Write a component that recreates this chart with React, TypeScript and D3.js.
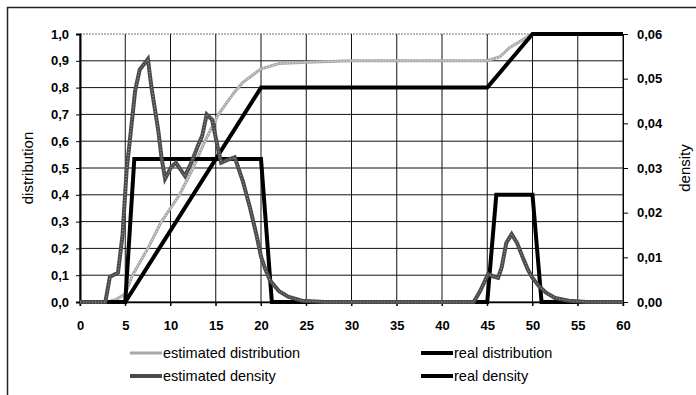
import * as d3 from 'd3';
import { useEffect, useRef } from 'react';

// x positions and values
const estDistX = [0, 3, 4, 5, 5.8, 7.5, 9, 11, 12.5, 13.8, 15.3, 17, 18, 20, 22, 25, 30, 35, 40, 45, 46.4, 47.5, 49, 50, 60];
const estDistY = [0, 0, 0.01, 0.03, 0.1, 0.2, 0.3, 0.4, 0.5, 0.6, 0.7, 0.78, 0.82, 0.87, 0.89, 0.895, 0.9, 0.9, 0.9, 0.9, 0.915, 0.95, 0.98, 1.0, 1.0];

const realDistX = [0, 5, 20, 45, 50, 60];
const realDistY = [0, 0, 0.8, 0.8, 1.0, 1.0];

const estDensX = [0, 2.8, 3.3, 4.2, 4.7, 5.15, 6.1, 6.6, 7.5, 7.9, 8.65, 9.0, 9.4, 10.1, 10.6, 11.6, 12.3, 13.0, 13.5, 14.0, 14.6, 15.2, 15.6, 16.3, 17.1, 18, 18.8, 19.5, 20, 20.5, 21, 22, 23, 24.5, 27, 43.5, 44.2, 45.1, 45.7, 46.2, 46.6, 47.1, 47.7, 48.3, 49, 49.5, 50, 50.7, 51.5, 52.5, 54, 56, 60];
const estDensY = [0, 0, 0.0056, 0.0066, 0.015, 0.0294, 0.0474, 0.052, 0.0544, 0.048, 0.0384, 0.0324, 0.0276, 0.0303, 0.0312, 0.0282, 0.0312, 0.0348, 0.0372, 0.042, 0.0408, 0.0348, 0.0312, 0.0318, 0.0324, 0.027, 0.021, 0.015, 0.0102, 0.0072, 0.0048, 0.0024, 0.0012, 0.0003, 0, 0, 0.0024, 0.0063, 0.0057, 0.0054, 0.0078, 0.0132, 0.0152, 0.0132, 0.0096, 0.0072, 0.0054, 0.0036, 0.0021, 0.0009, 0.0003, 0, 0];

const realDensX = [0, 5, 6, 20, 21.2, 45, 46, 50, 51, 60];
const realDensY = [0, 0, 0.032, 0.032, 0, 0, 0.024, 0.024, 0, 0];

const xTicks = [0, 5, 10, 15, 20, 25, 30, 35, 40, 45, 50, 55, 60];
const leftTicks = [0, 0.1, 0.2, 0.3, 0.4, 0.5, 0.6, 0.7, 0.8, 0.9, 1.0];
const rightTicks = [0, 0.01, 0.02, 0.03, 0.04, 0.05, 0.06];

const legendItems = [
    { label: 'estimated distribution', color: '#a8a8a8', width: 3, col: 0, row: 0 },
    { label: 'real distribution', color: '#000', width: 4, col: 1, row: 0 },
    { label: 'estimated density', color: '#4a4a4a', width: 4, col: 0, row: 1 },
    { label: 'real density', color: '#000', width: 4, col: 1, row: 1 }
];

const App = () => {
    const ref = useRef<any>();
    const dims = { width: 696, height: 395, left: 80, right: 623, top: 34, bottom: 302 };

    useEffect(() => {
        const svg = d3.select(ref.current);
        svg.selectAll('*').remove();

        const x = d3.scaleLinear().domain([0, 60]).range([dims.left, dims.right]);
        const yL = d3.scaleLinear().domain([0, 1]).range([dims.bottom, dims.top]);
        const yR = d3.scaleLinear().domain([0, 0.06]).range([dims.bottom, dims.top]);
        const font = 'Liberation Sans, Arial, sans-serif';

        // outer frame (only left & top visible in the scan)
        svg.append('path').attr('d', `M7.5,395 V7.5 H696`).attr('stroke', '#222').attr('stroke-width', 1.5).attr('fill', 'none');

        const grid = svg.append('g');
        leftTicks.forEach(t => {
            grid.append('line').attr('x1', dims.left).attr('x2', dims.right)
                .attr('y1', yL(t)).attr('y2', yL(t))
                .attr('stroke', t === 1 ? '#777' : '#111').attr('stroke-width', 1)
                .attr('stroke-dasharray', t === 1 ? '2,1' : null);
        });
        xTicks.forEach(t => {
            grid.append('line').attr('x1', x(t)).attr('x2', x(t))
                .attr('y1', dims.top).attr('y2', dims.bottom + 4)
                .attr('stroke', '#111').attr('stroke-width', 1);
        });

        // left axis
        const axL = svg.append('g').attr('transform', `translate(${dims.left},0)`)
            .call(d3.axisLeft(yL).tickValues(leftTicks).tickSize(4).tickFormat((d: any) => d3.format('.1f')(d).replace('.', ',')));
        axL.select('.domain').attr('stroke-width', 2);
        axL.selectAll('text').attr('font-family', font).attr('font-weight', 'bold').attr('font-size', 13).attr('fill', '#000').attr('dx', -4);

        // right axis
        const axR = svg.append('g').attr('transform', `translate(${dims.right},0)`)
            .call(d3.axisRight(yR).tickValues(rightTicks).tickSize(5).tickFormat((d: any) => d3.format('.2f')(d).replace('.', ',')));
        axR.selectAll('text').attr('font-family', font).attr('font-weight', 'bold').attr('font-size', 13).attr('fill', '#000').attr('dx', 6);

        // bottom axis
        const axB = svg.append('g').attr('transform', `translate(0,${dims.bottom})`)
            .call(d3.axisBottom(x).tickValues(xTicks).tickSize(4));
        axB.select('.domain').attr('stroke-width', 1.5);
        axB.selectAll('text').attr('font-family', font).attr('font-weight', 'bold').attr('font-size', 13).attr('fill', '#000').attr('dy', 21);

        svg.append('text').attr('transform', `translate(33,${(dims.top + dims.bottom) / 2}) rotate(-90)`)
            .attr('text-anchor', 'middle').attr('font-family', font).attr('font-size', 15).text('distribution');
        svg.append('text').attr('transform', `translate(690,${(dims.top + dims.bottom) / 2}) rotate(-90)`)
            .attr('text-anchor', 'middle').attr('font-family', font).attr('font-size', 15).text('density');

        const mk = (xs: number[], ys: number[], sy: any) =>
            d3.line<number>().x((_, i) => x(xs[i])).y(d => sy(d))(ys);

        const plot = svg.append('g');
        plot.append('path').attr('d', mk(estDistX, estDistY, yL)).attr('fill', 'none')
            .attr('stroke', '#a8a8a8').attr('stroke-width', 3);
        plot.append('path').attr('d', mk(estDistX, estDistY, yL)).attr('fill', 'none')
            .attr('stroke', '#fff').attr('stroke-width', 1).attr('stroke-dasharray', '1,2');
        plot.append('path').attr('d', mk(realDistX, realDistY, yL)).attr('fill', 'none')
            .attr('stroke', '#000').attr('stroke-width', 4);
        plot.append('path').attr('d', mk(realDensX, realDensY, yR)).attr('fill', 'none')
            .attr('stroke', '#000').attr('stroke-width', 4);
        plot.append('path').attr('d', mk(estDensX, estDensY, yR)).attr('fill', 'none')
            .attr('stroke', '#4a4a4a').attr('stroke-width', 4);
        plot.append('path').attr('d', mk(estDensX, estDensY, yR)).attr('fill', 'none')
            .attr('stroke', '#aaa').attr('stroke-width', 1).attr('stroke-dasharray', '1,2');

        // legend
        const lg = svg.append('g');
        legendItems.forEach(it => {
            const lx = it.col === 0 ? 130 : 421;
            const ly = it.row === 0 ? 353 : 376;
            lg.append('line').attr('x1', lx).attr('x2', lx + 32).attr('y1', ly).attr('y2', ly)
                .attr('stroke', it.color).attr('stroke-width', it.width);
            lg.append('text').attr('x', lx + 33).attr('y', ly + 5)
                .attr('font-family', font).attr('font-size', 14.5).text(it.label);
        });
    }, []);

    return (
        <svg ref={ref} width={dims.width} height={dims.height}
            style={{ position: 'absolute', left: 0, top: 0, background: '#fff' }}></svg>
    );
};

export default App;
